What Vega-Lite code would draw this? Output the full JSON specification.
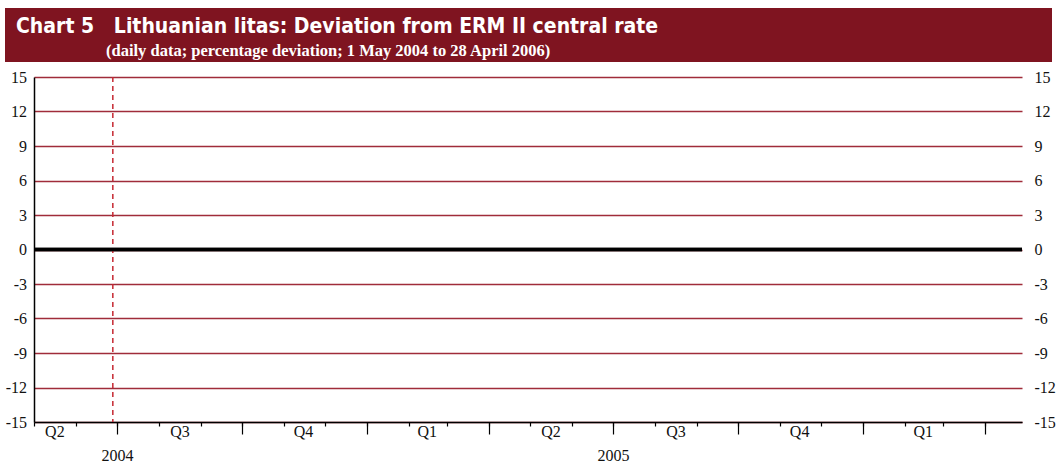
{
  "$schema": "https://vega.github.io/schema/vega-lite/v6.json",
  "padding": {"left": 5, "top": 8, "right": 0, "bottom": 0},
  "background": "white",
  "spacing": 7,
  "config": {"view": {"stroke": null}, "font": "Liberation Serif"},
  "datasets": {
    "deviation": [
      {"date": "2004-05-01", "deviation": 0},
      {"date": "2004-06-01", "deviation": 0},
      {"date": "2004-07-01", "deviation": 0},
      {"date": "2004-08-01", "deviation": 0},
      {"date": "2004-09-01", "deviation": 0},
      {"date": "2004-10-01", "deviation": 0},
      {"date": "2004-11-01", "deviation": 0},
      {"date": "2004-12-01", "deviation": 0},
      {"date": "2005-01-01", "deviation": 0},
      {"date": "2005-02-01", "deviation": 0},
      {"date": "2005-03-01", "deviation": 0},
      {"date": "2005-04-01", "deviation": 0},
      {"date": "2005-05-01", "deviation": 0},
      {"date": "2005-06-01", "deviation": 0},
      {"date": "2005-07-01", "deviation": 0},
      {"date": "2005-08-01", "deviation": 0},
      {"date": "2005-09-01", "deviation": 0},
      {"date": "2005-10-01", "deviation": 0},
      {"date": "2005-11-01", "deviation": 0},
      {"date": "2005-12-01", "deviation": 0},
      {"date": "2006-01-01", "deviation": 0},
      {"date": "2006-02-01", "deviation": 0},
      {"date": "2006-03-01", "deviation": 0},
      {"date": "2006-04-01", "deviation": 0},
      {"date": "2006-04-28", "deviation": 0}
    ],
    "erm": [{"date": "2004-06-28", "event": "ERM II entry"}]
  },
  "vconcat": [
    {
      "spacing": 0,
      "vconcat": [
        {
          "width": 1047,
          "height": 30,
          "view": {"fill": "#7F1420", "stroke": null},
          "title": {
            "text": "Chart 5\u00a0\u00a0\u00a0Lithuanian litas: Deviation from ERM II central rate",
            "orient": "top",
            "anchor": "start",
            "frame": "group",
            "offset": -29,
            "dx": 11,
            "color": "white",
            "font": "DejaVu Sans Condensed",
            "fontSize": 21,
            "fontWeight": "bold"
          },
          "data": {"values": []},
          "mark": "text"
        },
        {
          "width": 1047,
          "height": 24,
          "view": {"fill": "#7F1420", "stroke": null},
          "title": {
            "text": "(daily data; percentage deviation; 1 May 2004 to 28 April 2006)",
            "orient": "top",
            "anchor": "start",
            "frame": "group",
            "offset": -21,
            "dx": 101,
            "color": "white",
            "font": "Liberation Serif",
            "fontSize": 16.5,
            "fontWeight": "bold"
          },
          "data": {"values": []},
          "mark": "text"
        }
      ]
    },
    {
      "width": 1017,
      "height": 345,
      "data": {"name": "deviation"},
      "layer": [
        {
          "mark": {"type": "line", "color": "black", "strokeWidth": 3.5},
          "encoding": {
            "x": {
              "field": "date", "type": "temporal",
              "scale": {"type": "utc", "rangeMin": 29, "rangeMax": 1017, "domain": [{"year": 2004, "month": 5, "date": 1, "utc": true}, {"year": 2006, "month": 4, "date": 28, "utc": true}]},
              "axis": {"orient": "bottom", "labels": false, "tickCount": {"interval": "month", "step": 1}, "tickSize": 4, "tickColor": "black", "tickWidth": 1.2, "domainColor": "black", "domainWidth": 1.5, "grid": false, "title": null}
            },
            "y": {
              "field": "deviation", "type": "quantitative",
              "scale": {"domain": [-15, 15], "nice": false, "zero": false},
              "axis": {"orient": "left", "offset": -29, "values": [-15, -12, -9, -6, -3, 0, 3, 6, 9, 12, 15], "labelExpr": "'' + datum.value", "grid": true, "gridColor": "#A02C3A", "gridWidth": 1.5, "ticks": false, "domainColor": "black", "domainWidth": 1.5, "labelFont": "Liberation Serif", "labelFontSize": 16, "labelColor": "#111", "labelPadding": 7.5, "title": null}
            }
          }
        },
        {
          "data": {"name": "erm"},
          "mark": {"type": "rule", "color": "#C62832", "strokeWidth": 1.5, "strokeDash": [5, 4]},
          "encoding": {
            "x": {
              "field": "date", "type": "temporal",
              "scale": {"type": "utc", "rangeMin": 29, "rangeMax": 1017, "domain": [{"year": 2004, "month": 5, "date": 1, "utc": true}, {"year": 2006, "month": 4, "date": 28, "utc": true}]},
              "axis": {"orient": "bottom", "tickCount": {"interval": "month", "step": 3}, "tickSize": 12, "tickColor": "black", "tickWidth": 1.2, "domain": false, "grid": false, "labelExpr": "utcmonth(datum.value) == 6 ? utcFormat(datum.value, '%Y') : ''", "labelPadding": 13, "labelFont": "Liberation Serif", "labelFontSize": 16, "labelColor": "#111", "labelOverlap": false, "labelFlush": false, "title": null}
            }
          }
        },
        {
          "mark": {"type": "line", "color": "black", "strokeWidth": 3.5},
          "encoding": {
            "x": {
              "field": "date", "type": "temporal",
              "scale": {"type": "utc", "rangeMin": 29, "rangeMax": 1017, "domain": [{"year": 2004, "month": 5, "date": 1, "utc": true}, {"year": 2006, "month": 4, "date": 28, "utc": true}]},
              "axis": {
                "orient": "bottom",
                "values": [
                  {"year": 2004, "month": 5, "date": 16, "utc": true},
                  {"year": 2004, "month": 8, "date": 16, "utc": true},
                  {"year": 2004, "month": 11, "date": 15, "utc": true},
                  {"year": 2005, "month": 2, "date": 14, "utc": true},
                  {"year": 2005, "month": 5, "date": 16, "utc": true},
                  {"year": 2005, "month": 8, "date": 16, "utc": true},
                  {"year": 2005, "month": 11, "date": 15, "utc": true},
                  {"year": 2006, "month": 2, "date": 14, "utc": true}
                ],
                "format": "Q%q", "ticks": false, "domain": false, "grid": false, "labelPadding": 1, "labelFont": "Liberation Serif", "labelFontSize": 16, "labelColor": "#111", "labelOverlap": false, "labelFlush": false, "title": null
              }
            },
            "y": {
              "field": "deviation", "type": "quantitative",
              "scale": {"domain": [-15, 15], "nice": false, "zero": false},
              "axis": {"orient": "right", "values": [-15, -12, -9, -6, -3, 0, 3, 6, 9, 12, 15], "labelExpr": "'' + datum.value", "grid": false, "ticks": false, "domain": false, "labelFont": "Liberation Serif", "labelFontSize": 16, "labelColor": "#111", "labelPadding": 12, "title": null}
            }
          }
        }
      ],
      "resolve": {"axis": {"x": "independent", "y": "independent"}}
    }
  ]
}
